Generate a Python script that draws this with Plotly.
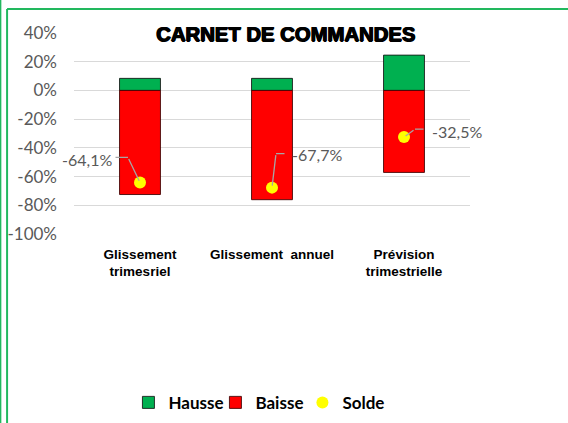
import plotly.graph_objects as go

categories = ["Glissement<br>trimesriel", "Glissement\u00a0\u00a0annuel", "Prévision<br>trimestrielle"]
hausse = [0.084, 0.084, 0.246]
baisse = [-0.725, -0.761, -0.571]
solde = [-0.641, -0.677, -0.325]
solde_labels = ["-64,1%", "-67,7%", "-32,5%"]
y_ticks = [0.4, 0.2, 0.0, -0.2, -0.4, -0.6, -0.8, -1.0]
y_tick_labels = ["40%", "20%", "0%", "-20%", "-40%", "-60%", "-80%", "-100%"]

fig = go.Figure()
fig.add_trace(go.Bar(
    x=categories, y=hausse, name="Hausse", width=0.31,
    marker=dict(color="#00B050", line=dict(color="rgba(20,20,20,0.85)", width=1)),
))
fig.add_trace(go.Bar(
    x=categories, y=baisse, name="Baisse", width=0.31,
    marker=dict(color="#FF0000", line=dict(color="rgba(60,0,0,0.85)", width=1)),
))
fig.add_trace(go.Scatter(
    x=categories, y=solde, name="Solde", mode="markers",
    marker=dict(color="#FFFF00", size=12),
))

# label offsets (pixels) and leader-line elbows relative to each Solde point
label_shift = [(-53, 23), (45, 33), (53, 6)]
elbow = [(-12, 25), (4, 34), (11, 8)]
tail = [-14, 10, 10]
lead = dict(showarrow=True, arrowhead=0, arrowcolor="#A6A6A6", arrowwidth=1.3)
for cat, val, lab, (sx, sy), (ex, ey), t in zip(categories, solde, solde_labels, label_shift, elbow, tail):
    fig.add_annotation(x=cat, y=val, text="", ax=ex, ay=-ey, standoff=2, **lead)
    fig.add_annotation(x=cat, y=val, text="", xshift=ex, yshift=ey, ax=t, ay=0, **lead)
    fig.add_annotation(
        x=cat, y=val, text=lab, showarrow=False, xshift=sx, yshift=sy,
        font=dict(family="Lato", size=16, color="#595959"),
    )

green = "#22B85E"
frame = [
    dict(x0=-0.169, x1=-0.169, y0=1.119, y1=-0.95),
    dict(x0=-0.169, x1=1.25, y0=1.119, y1=1.119),
    dict(x0=-0.186, x1=-0.186, y0=1.2, y1=-0.95),
]
for f in frame:
    fig.add_shape(type="line", xref="paper", yref="paper", line=dict(color=green, width=2), **f)

fig.update_layout(
    width=568, height=423,
    margin=dict(l=74, r=98, t=33, b=189, autoexpand=False),
    paper_bgcolor="white", plot_bgcolor="white",
    barmode="relative", bargap=0.69,
    title=dict(
        text="CARNET DE COMMANDES", x=0.535, xref="paper", xanchor="center",
        y=1 - 34 / 423, yref="container", yanchor="middle",
        font=dict(family="Liberation Sans", size=20.3, color="black", weight="bold",
                  shadow="0.7px 0 0 #000, -0.7px 0 0 #000, 0 0.5px 0 #000"),
    ),
    showlegend=True,
    legend=dict(
        orientation="h", x=0.467, xanchor="center", y=-0.84, yanchor="middle",
        font=dict(family="Lato", size=17, color="black", weight="bold"),
        itemwidth=30, traceorder="normal", entrywidth=42,
    ),
)
fig.update_yaxes(
    range=[-1.0, 0.4], tickvals=y_ticks, ticktext=y_tick_labels,
    showgrid=True, gridcolor="#D9D9D9", gridwidth=1,
    zeroline=True, zerolinecolor="#D9D9D9", zerolinewidth=1,
    showline=False, ticks="", ticklabelstandoff=16, automargin=False,
    tickfont=dict(family="Lato", size=17, color="#595959"),
)
fig.update_xaxes(
    range=[-0.5, 2.5],
    showgrid=False, showline=False, ticks="", ticklabelstandoff=10, automargin=False,
    tickfont=dict(family="Liberation Sans", size=13.5, color="black", weight="bold"),
)

fig.write_html("out.html", config={"displayModeBar": False},
               post_script="document.body.style.margin='0';")
